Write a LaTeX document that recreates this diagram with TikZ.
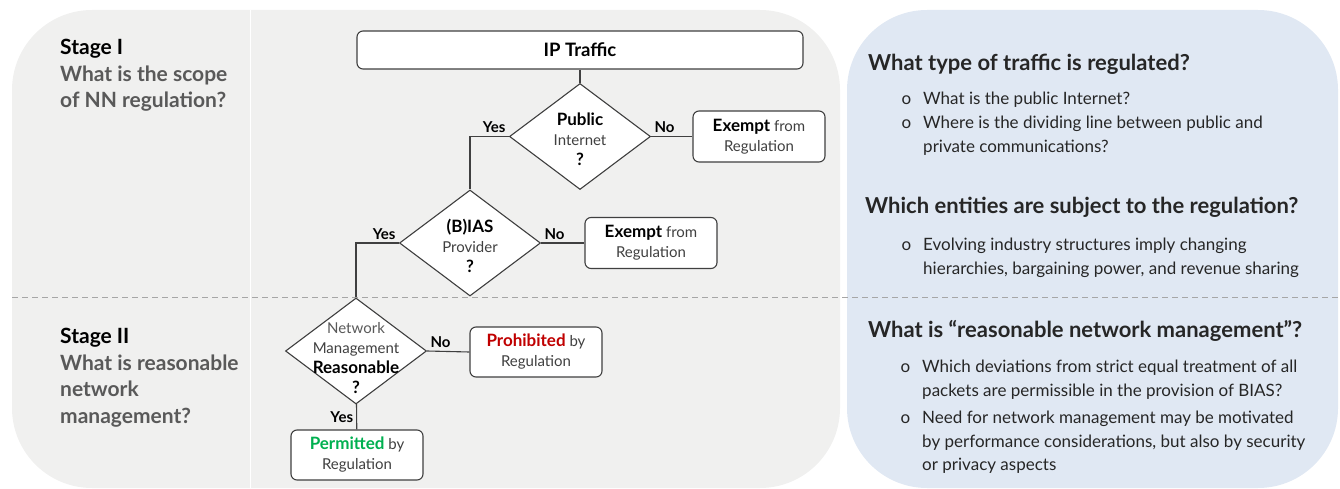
\documentclass[tikz,border=0pt]{standalone}
\usepackage{fontspec}
\setmainfont{Lato}
\usetikzlibrary{shapes.geometric}
\definecolor{panelgray}{HTML}{F0F0EF}
\definecolor{panelblue}{HTML}{E0E8F3}
\definecolor{dashgray}{HTML}{A6A6A6}
\definecolor{linegray}{HTML}{404040}
\definecolor{subgray}{HTML}{595959}
\definecolor{headgray}{HTML}{262626}
\definecolor{prored}{HTML}{C00000}
\definecolor{pergreen}{HTML}{00B050}
\newcommand{\kw}[1]{{\fontsize{17}{20}\selectfont\bfseries\color{black}#1}}
\newcommand{\bul}{\leavevmode\llap{o\hspace{12pt}}}

\begin{document}
\begin{tikzpicture}
[x=1pt,y=-1pt,every node/.style={inner sep=0pt},
 box/.style={draw=linegray,line width=1.1pt,fill=white,rounded corners=6pt,
   minimum width=132pt,minimum height=51pt,align=center,
   font=\fontsize{15}{20}\selectfont,text=linegray},
 dia/.style={diamond,draw=linegray,line width=1.1pt,fill=white,
   minimum width=141pt,minimum height=106pt},
 dtext/.style={align=center,font=\fontsize{15}{20}\selectfont,text=linegray},
 lbl/.style={font=\bfseries\fontsize{15}{17}\selectfont,text=black,inner sep=3pt},
 conn/.style={draw=linegray,line width=1.1pt},
 stage/.style={align=left,font=\bfseries\fontsize{21}{26.5}\selectfont,text=subgray},
 head/.style={font=\bfseries\fontsize{22}{26}\selectfont,text=headgray},
 item/.style={align=left,font=\fontsize{17}{23.5}\selectfont,text=headgray}]
   \useasboundingbox (0,0) rectangle (1340,489);
   % panels
   \fill[panelgray,rounded corners=80pt] (12,10) rectangle (840,488);
   \fill[panelblue,rounded corners=80pt] (847,10) rectangle (1338,488);
   \draw[white,line width=1pt] (250,10) -- (250,488);
   \draw[dashgray,line width=1pt,dash pattern=on 6pt off 4pt] (12,297) -- (1340,297);

   \node[stage,anchor=north west] (st_1) at (60,39) {\textcolor{black}{Stage I}\\What is the scope\\of NN regulation?};
   \node[stage,anchor=north west] (st_2) at (60,328) {\textcolor{black}{Stage II}\\What is reasonable\\network\\management?};

   % flow chart
   \node[box,minimum width=446pt,minimum height=38pt] (ip) at (580,50) {\kw{\fontsize{18.5}{20}\selectfont IP Traffic}};
   \node[dia,label={[dtext,yshift=-3pt]center:{\kw{Public}\\Internet\\\kw{?}}}] (pub) at (580,136.5) {};
   \node[box] (ex_1) at (759,136.5) {\kw{Exempt} from\\Regulation};
   \node[dia,label={[dtext,yshift=-3pt]center:{\kw{(B)IAS}\\Provider\\\kw{?}}}] (bias) at (470,243) {};
   \node[box] (ex_2) at (651,243) {\kw{Exempt} from\\Regulation};
   \node[dia,label={[dtext,yshift=-7pt]center:{\textcolor{subgray}{Network}\\Management\\\kw{Reasonable}\\\kw{?}}}] (nm) at (356,351) {};
   \node[box,minimum height=50pt] (proh) at (536,352) {\kw{\color{prored}Prohibited} by\\Regulation};
   \node[box,minimum height=50pt] (perm) at (357,455) {\kw{\color{pergreen}Permitted} by\\Regulation};

   \path[conn]
    (ip) edge (pub)
    (pub.east) edge node[lbl,pos=0,above right] {No} (ex_1.west)
    (bias.east) edge node[lbl,pos=0,above right] {No} (ex_2.west)
    (nm.east) edge node[lbl,pos=0,above right] {No} (proh.west)
    (nm) edge node[lbl,left] {Yes} (perm);
   \draw[conn] (pub.west) node[lbl,above left] {Yes} -| (bias.north);
   \draw[conn] (bias.west) node[lbl,above left] {Yes} -| (nm.north);

   % questions
   \node[head,anchor=base west] (q_1) at (868,71) {What type of traffic is regulated?};
   \node[item,anchor=north west] (it_1) at (923,91.8) {\bul What is the public Internet?};
   \node[item,anchor=north west] (it_2) at (923,116) {\bul Where is the dividing line between public and\\private communications?};
   \node[head,anchor=base west] (q_2) at (865,213) {Which entities are subject to the regulation?};
   \node[item,anchor=north west] (it_3) at (923,238) {\bul Evolving industry structures imply changing\\hierarchies, bargaining power, and revenue sharing};
   \node[head,anchor=base west] (q_3) at (868,337) {What is “reasonable network management”?};
   \node[item,anchor=north west] (it_4) at (922,360) {\bul Which deviations from strict equal treatment of all\\packets are permissible in the provision of BIAS?};
   \node[item,anchor=north west] (it_5) at (922,411) {\bul Need for network management may be motivated\\by performance considerations, but also by security\\or privacy aspects};
\end{tikzpicture}
\end{document}
